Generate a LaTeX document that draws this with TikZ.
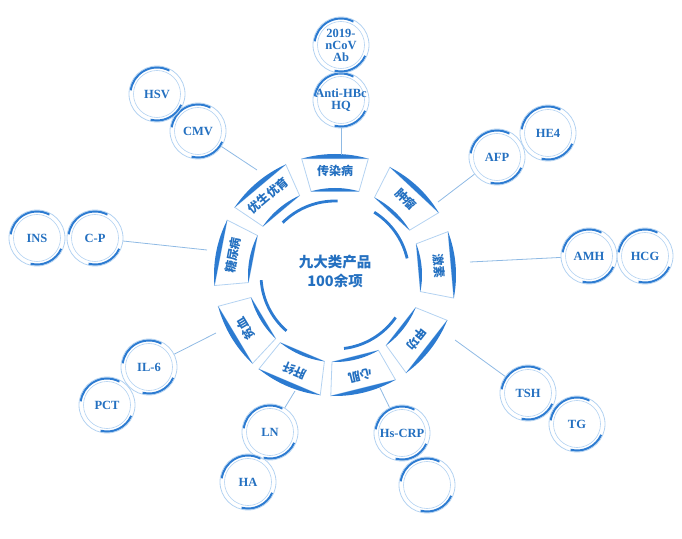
\documentclass[tikz,border=0pt]{standalone}
\usepackage{fontspec}
\setmainfont{Liberation Serif}
\newfontfamily\cjk{Noto Sans CJK SC}
\definecolor{mainblue}{HTML}{2C7BD1}
\definecolor{thinblue}{HTML}{B3D2F1}
\definecolor{linkblue}{HTML}{8FBAE4}
\definecolor{textblue}{HTML}{2470C0}
\begin{document}
\begin{tikzpicture}[x=1pt, y=1pt,
	bub/.style = {circle, draw=thinblue, line width=0.8pt, minimum size=56pt, inner sep=0pt, align=center,
		text=textblue, font=\fontsize{12.5}{12}\selectfont\bfseries,
		path picture={
			\draw[thinblue, line width=0.6pt] (path picture bounding box.center) circle[radius=23.5];
			\draw[mainblue, line width=2.2pt] ([shift={(62:26.6)}]path picture bounding box.center) arc[start angle=62, end angle=172, radius=26.6];
			\draw[mainblue, line width=2.2pt] ([shift={(-104:26.6)}]path picture bounding box.center) arc[start angle=-104, end angle=-24, radius=26.6];
		}},
	link/.style = {draw=linkblue, line width=0.8pt},
	seglabel/.style = {text=textblue, inner sep=0pt, font=\cjk\bfseries\fontsize{12}{12}\selectfont},
	ringarc/.style = {mainblue, line width=2.8pt}]
	
	\useasboundingbox (0,0) rectangle (682,538);
	
	\node[bub] (hbc) at (341,438) {Anti-HBc\\HQ};
	\node[bub] (ncov) at (341,493) {2019-\\nCoV\\Ab};
	\node[bub] (cmv) at (198,407) {CMV};
	\node[bub] (hsv) at (157,444) {HSV};
	\node[bub] (afp) at (497,381) {AFP};
	\node[bub] (he4) at (548,405) {HE4};
	\node[bub] (amh) at (589,282) {AMH};
	\node[bub] (hcg) at (645,282) {HCG};
	\node[bub] (tsh) at (528,145) {TSH};
	\node[bub] (tg) at (577,114) {TG};
	\node[bub] (crp) at (402,105) {Hs-CRP};
	\node[bub] (blank) at (427,53) {};
	\node[bub] (ln) at (270,106) {LN};
	\node[bub] (ha) at (248,56) {HA};
	\node[bub] (il6) at (149,171) {IL-6};
	\node[bub] (pct) at (107,133) {PCT};
	\node[bub] (cp) at (95,300) {C-P};
	\node[bub] (ins) at (37,300) {INS};
	
	\begin{scope}[shift={(335,263)}]
		\foreach \a/\t [count=\i] in {90/传染病, 47/肿瘤, 5/激素, -38/甲功, -76/心肌, -113/肝纤, -149/贫血, 169/糖尿病, 130/优生优育} {
			\draw[thinblue, line width=0.8pt] (\a-16:87) -- (\a-16:121) -- (\a+16:121) -- (\a+16:87) -- cycle;
			\fill[mainblue] (\a-16:121) arc[start angle=\a-16, end angle=\a+16, radius=121] -- cycle;
			\fill[mainblue] (\a-16:87) arc[start angle=\a-16, end angle=\a+16, radius=87] -- cycle;
			\node[seglabel, rotate=\a-90] (s\i) at (\a:104) {\t};
		}
		\draw[ringarc] (88:74) arc[start angle=88, end angle=135, radius=74];
		\draw[ringarc] (13:74) arc[start angle=13, end angle=58, radius=74];
		\draw[ringarc] (-83:74) arc[start angle=-83, end angle=-35, radius=74];
		\draw[ringarc] (184:74) arc[start angle=184, end angle=229, radius=74];
	\end{scope}
	
	\node[text=textblue, align=center, font=\cjk\bfseries\fontsize{14.5}{19}\selectfont] (core) at (335,267) {九大类产品\\100余项};
	
	\coordinate (e1) at (341,383);
	\coordinate (e2) at (257,368);
	\coordinate (e3) at (438,336);
	\coordinate (e4) at (470,276);
	\coordinate (e5) at (455,198);
	\coordinate (e6) at (380,150);
	\coordinate (e7) at (295,147);
	\coordinate (e8) at (216,205);
	\coordinate (e9) at (207,288);
	
	\draw[link] (hbc) -- (e1);
	\draw[link] (cmv) -- (e2);
	\draw[link] (afp) -- (e3);
	\draw[link] (amh) -- (e4);
	\draw[link] (tsh) -- (e5);
	\draw[link] (crp) -- (e6);
	\draw[link] (ln) -- (e7);
	\draw[link] (il6) -- (e8);
	\draw[link] (cp) -- (e9);
	
\end{tikzpicture}
\end{document}
